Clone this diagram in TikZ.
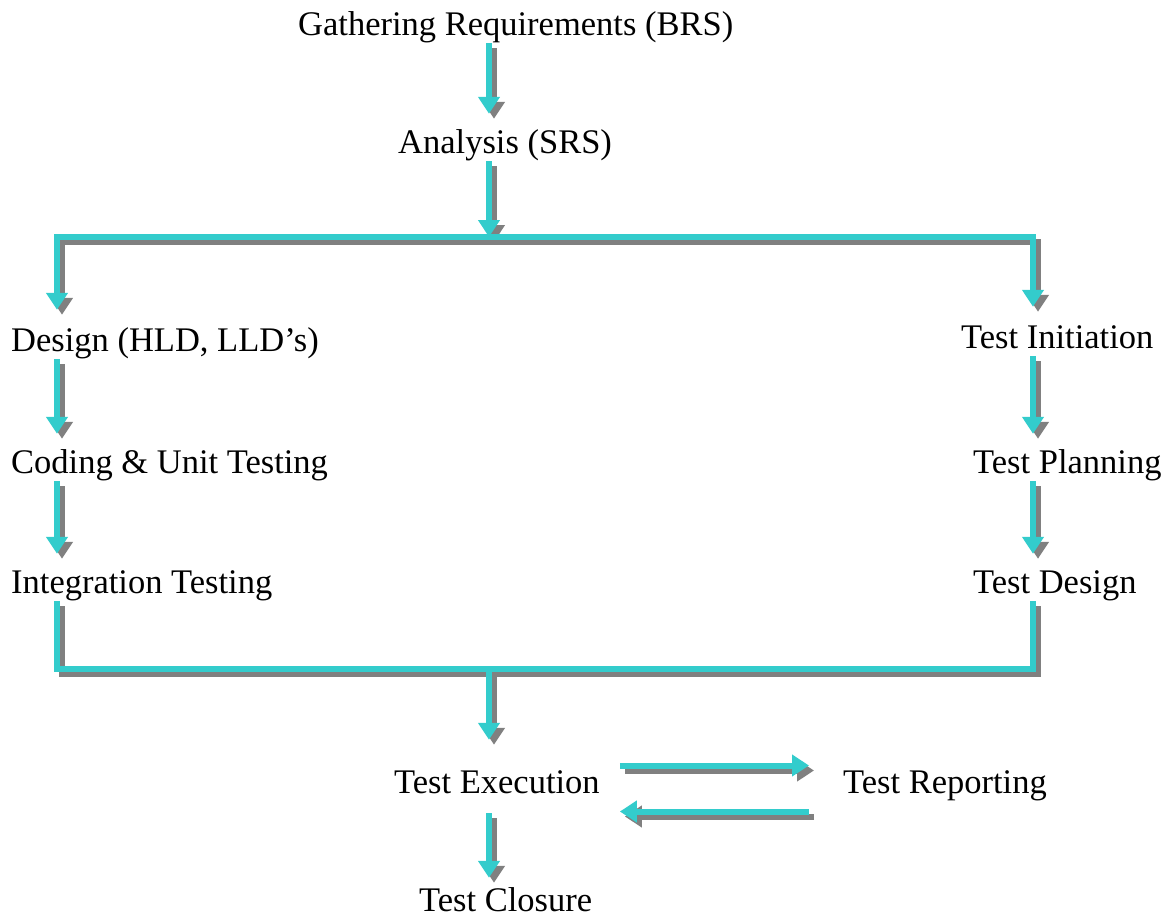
\documentclass[tikz,border=0pt]{standalone}
\usepackage{fontspec}
\setmainfont{Liberation Serif}
\usetikzlibrary{
    arrows.meta,
    positioning
}
\definecolor{flowcyan}{HTML}{33CCCC}
\definecolor{flowshadow}{HTML}{808080}
\tikzset{
    % Colors
    flow color/.style={draw=flowcyan},
    shadow color/.style={draw=flowshadow},
    %
    % Nodes
    phase/.style={anchor=base west,inner sep=1pt,text height=22pt,text depth=7pt,
        font=\fontsize{34.5}{40}\selectfont},
    %
    % Arrows
    flow tip/.tip={Triangle[length=17pt,width=21pt]},
    flow/.style={flow color,line width=6pt,
        preaction={shadow color,line width=6pt,transform canvas={shift={(5pt,-5pt)}}}},
    flow arr/.style={flow,-{flow tip},shorten >=#1},
    flow arr/.default=16pt
}

\begin{document}
\begin{tikzpicture}[x=1pt,y=-1pt]
        \useasboundingbox (0,0) rectangle (1167,918);
        % phases
        \node[phase] (gather) at (297,35) {Gathering Requirements (BRS)};
        \node[phase] (analysis) at (397,153) {Analysis (SRS)};
        \node[phase] (design) at (10,351) {Design (HLD, LLD's)};
        \node[phase] (coding) at (10,473) {Coding \& Unit Testing};
        \node[phase] (integ) at (10,593) {Integration Testing};
        \node[phase] (init) at (960,348) {Test Initiation};
        \node[phase] (plan) at (972,473) {Test Planning};
        \node[phase] (tdesign) at (972,593) {Test Design};
        \node[phase] (exec) at (393,793) {Test Execution};
        \node[phase] (report) at (842,793) {Test Reporting};
        \node[phase] (closure) at (418,911) {Test Closure};
        % branch points
        \coordinate (split) at (489,237);
        \coordinate (lcol) at (57,237);
        \coordinate (rcol) at (1033,237);
        \coordinate (merge) at (489,669);
        \coordinate (lbot) at (57,669);
        \coordinate (rbot) at (1033,669);
        % top
        \draw[flow arr] (gather.south -| split) -- (analysis.north -| split);
        \draw[flow arr=0pt] (analysis.south -| split) -- (split);
        \draw[flow arr=18pt] (split) -- (lcol) -- (design.north -| lcol);
        \draw[flow arr=18pt] (split) -- (rcol) -- (init.north -| rcol);
        % columns
        \draw[flow arr] (design.south -| lcol) -- (coding.north -| lcol);
        \draw[flow arr] (coding.south -| lcol) -- (integ.north -| lcol);
        \draw[flow arr] (init.south -| rcol) -- (plan.north -| rcol);
        \draw[flow arr] (plan.south -| rcol) -- (tdesign.north -| rcol);
        % bottom
        \draw[flow] (integ.south -| lbot) -- (lbot) -- (rbot) -- (tdesign.south -| rbot);
        \draw[flow arr=30pt] (merge) -- (exec.north -| merge);
        \draw[flow arr=0pt] ([xshift=19pt,yshift=20pt]exec.east) -- ([xshift=-33pt,yshift=20pt]report.west);
        \draw[flow arr=0pt] ([xshift=-33pt,yshift=-26pt]report.west) -- ([xshift=19pt,yshift=-26pt]exec.east);
        \draw[flow arr=10pt,shorten <=12pt] (exec.south -| merge) -- (closure.north -| merge);
    \end{tikzpicture}
\end{document}
